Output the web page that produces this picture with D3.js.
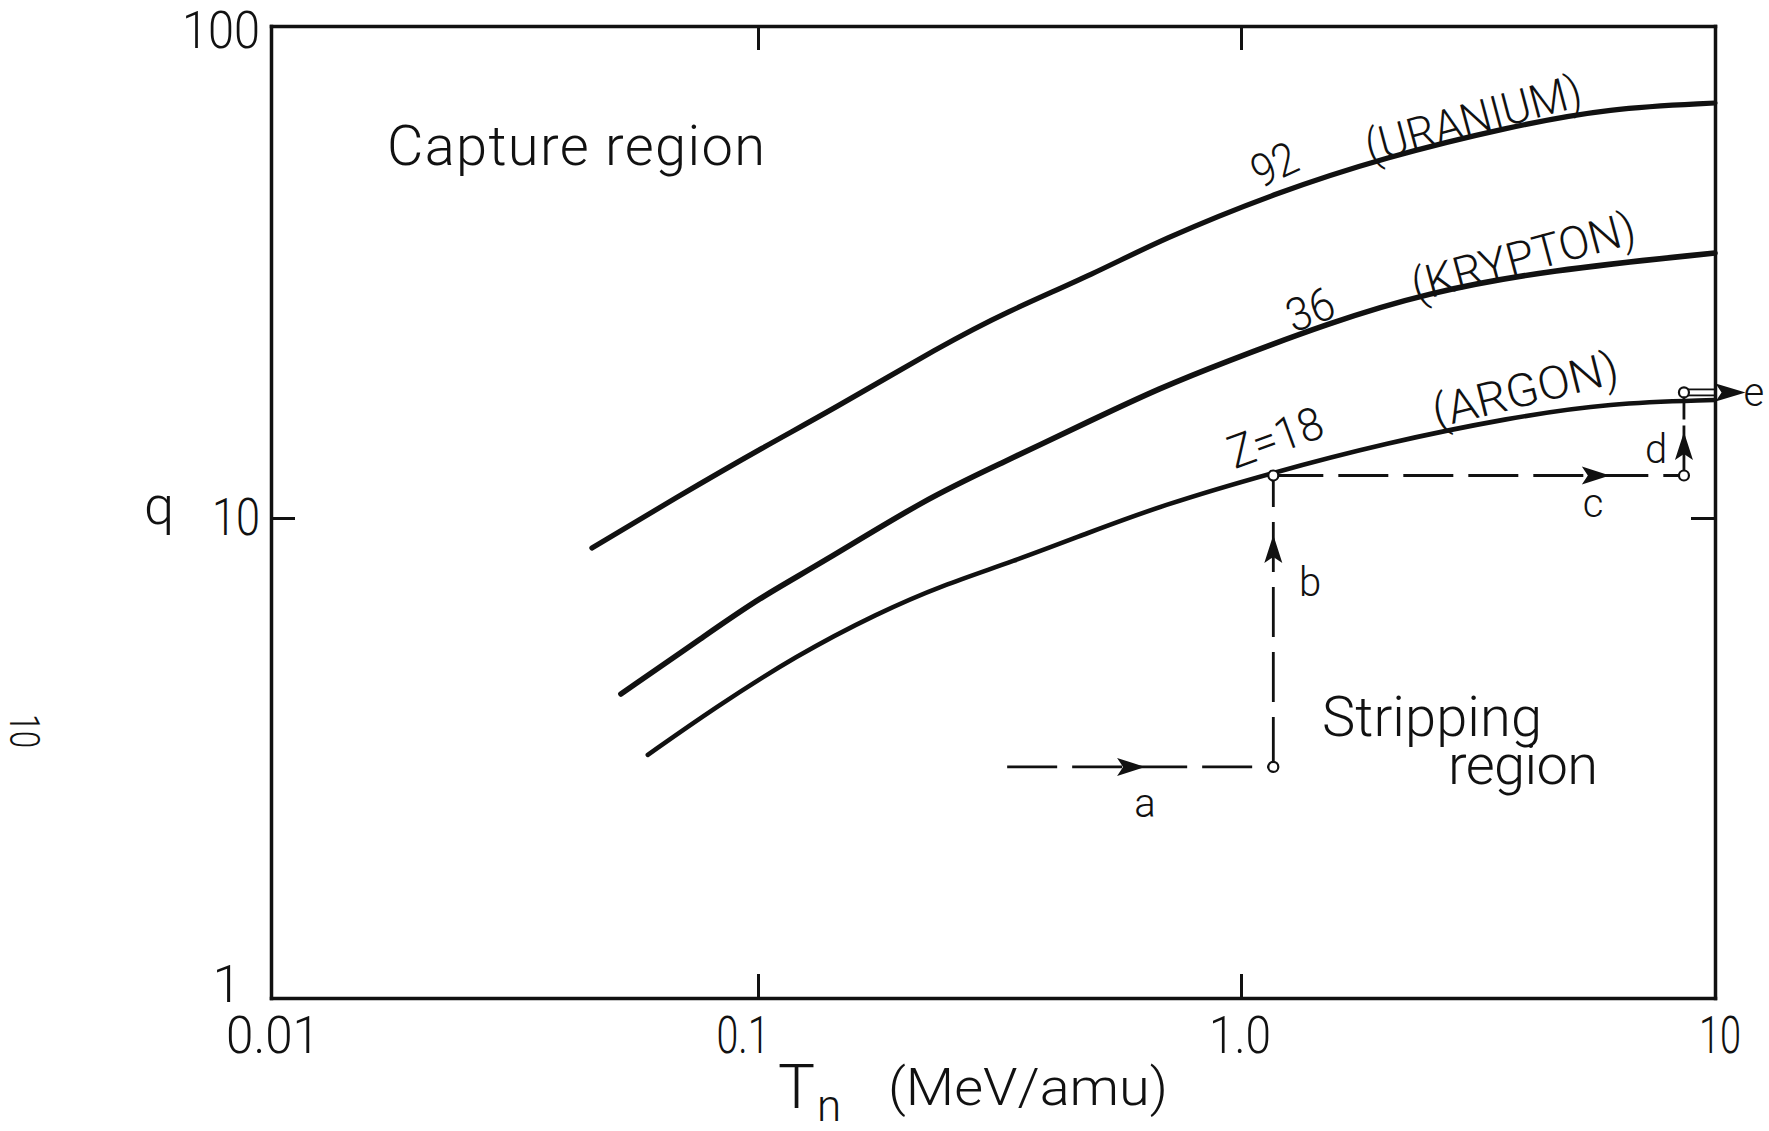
<!DOCTYPE html>
<html><head><meta charset="utf-8">
<script src="https://cdn.jsdelivr.net/npm/d3@7"></script>
<style>
body{margin:0;background:#fff}
svg{display:block}
text{font-family:Roboto,"Liberation Sans",sans-serif;font-weight:300;fill:#111}
</style>
</head><body>
<svg id="c" width="1769" height="1131"></svg>
<script>
// ---------- data ----------
const xTicks = [0.01, 0.1, 1, 10];
const xTickLabels = ["0.01", "0.1", "1.0", "10"];
const yTicks = [1, 10, 100];
const yTickLabels = ["1", "10", "100"];

// Uranium Z=92
const energyU = [0.0456, 0.0676, 0.1044, 0.1396, 0.2415, 0.3231, 0.501, 0.6797, 1.18, 2.022, 3.659, 6.004, 10];
const chargeU = [8.66, 10.98, 14.07, 16.42, 22.47, 26.11, 31.48, 36.73, 45.78, 54.17, 62.33, 68.13, 69.74];
// Krypton Z=36
const energyKr = [0.0523, 0.0778, 0.1005, 0.1344, 0.2238, 0.317, 0.501, 0.6797, 0.9133, 1.533, 2.456, 4.465, 10];
const chargeKr = [4.30, 5.68, 6.81, 8.02, 10.98, 12.88, 15.97, 18.37, 20.65, 24.91, 28.67, 31.92, 34.56];
// Argon Z=18
const energyAr = [0.0594, 0.0808, 0.1204, 0.1772, 0.2415, 0.3356, 0.4824, 0.6797, 1.157, 2.022, 3.659, 6.004, 10];
const chargeAr = [3.21, 4.00, 5.18, 6.34, 7.25, 8.10, 9.31, 10.58, 12.35, 14.21, 15.97, 17.13, 17.37];

// acceleration path a-b-c-d-e (energy, charge)
const pathT = [0.328, 1.17, 1.17, 8.6, 8.6];
const pathQ = [3.03, 3.03, 12.2, 12.2, 18.0];
const pathLabels = ["a", "b", "c", "d", "e"];
const labelT = [0.633, 1.398, 5.53, 7.51, 12.08];
const labelQ = [2.55, 7.36, 10.73, 13.81, 18.11];
const arrowTipT = [0.633, 1.17, 6.0, 8.6, 11.6];
const arrowTipQ = [3.03, 9.22, 12.2, 14.96, 18.0];
const eEndT = 10;

// curve labels
const curveLabels = ["92", "(URANIUM)", "36", "(KRYPTON)", "Z=18", "(ARGON)"];
const curveLabelT = [1.174, 3.087, 1.398, 3.935, 1.18, 3.973];
const curveLabelQ = [52.4, 65.0, 26.6, 34.08, 14.61, 18.29];

// region labels
const regionLabels = ["Capture region", "Stripping", "region"];
const regionT = [0.0173, 1.482, 2.734];
const regionQ = [52.19, 3.515, 2.791];

// ---------- drawing ----------
const svg = d3.select("#c");
const x = d3.scaleLog().domain(xTicks).range([271, 758, 1241, 1715]);
const y = d3.scaleLog().domain(yTicks).range([998, 518, 26]);
const ink = "#111";

// frame + ticks
const gAx = svg.append("g");
gAx.append("g").attr("transform", `translate(0,${y(1)})`)
  .call(d3.axisBottom(x).tickValues([0.1, 1]).tickSize(-24).tickSizeOuter(0).tickFormat(""));
gAx.append("g").attr("transform", `translate(0,${y(100)})`)
  .call(d3.axisTop(x).tickValues([0.1, 1]).tickSize(-24).tickSizeOuter(0).tickFormat(""));
gAx.append("g").attr("transform", `translate(${x(0.01)},0)`)
  .call(d3.axisLeft(y).tickValues([10]).tickSize(-24).tickSizeOuter(0).tickFormat(""));
gAx.append("g").attr("transform", `translate(${x(10)},0)`)
  .call(d3.axisRight(y).tickValues([10]).tickSize(-24).tickSizeOuter(0).tickFormat(""));
gAx.selectAll("path.domain").attr("stroke", ink).attr("stroke-width", 3.5).attr("stroke-linecap", "square");
gAx.selectAll(".tick line").attr("stroke", ink).attr("stroke-width", 3);

// tick labels
const xLabOff = [2, -15, -1, 5];
const xLabLen = [94, 53, 62, 42];
svg.append("g").selectAll("text").data(xTicks).join("text")
  .attr("x", (d, i) => x(d) + xLabOff[i]).attr("y", y(1) + 55)
  .attr("text-anchor", "middle").attr("font-size", 52)
  .attr("textLength", (d, i) => xLabLen[i]).attr("lengthAdjust", "spacingAndGlyphs")
  .text((d, i) => xTickLabels[i]);

const yLabDx = [-44, -11, -11];
const yLabDy = [4, 17, 22];
svg.append("g").selectAll("text").data(yTicks).join("text")
  .attr("x", (d, i) => x(0.01) + yLabDx[i]).attr("y", (d, i) => y(d) + yLabDy[i])
  .attr("text-anchor", (d, i) => i === 0 ? "middle" : "end").attr("font-size", 52)
  .attr("textLength", (d, i) => i === 0 ? null : [null, 48, 78][i])
  .attr("lengthAdjust", "spacingAndGlyphs")
  .text((d, i) => yTickLabels[i]);

// axis titles
svg.append("text").attr("x", x(0.01) - 112).attr("y", y(10) + 6)
  .attr("text-anchor", "middle").attr("font-size", 54).text("q");
const xt = svg.append("text").attr("x", 778).attr("y", 1108).attr("font-size", 62);
xt.append("tspan").text("T");
xt.append("tspan").attr("font-size", 44).attr("dy", 13).attr("dx", 2).text("n");
svg.append("text").attr("x", 888).attr("y", 1105).attr("font-size", 52)
  .attr("textLength", 280).attr("lengthAdjust", "spacingAndGlyphs").text("(MeV/amu)");

// page number at left margin
svg.append("text").attr("transform", "translate(10,731) rotate(90)")
  .attr("text-anchor", "middle").attr("font-family", "Liberation Serif, DejaVu Serif, serif")
  .attr("font-weight", 400).attr("font-size", 42).attr("textLength", 34)
  .attr("lengthAdjust", "spacingAndGlyphs").text("10");

// curves
const line = d3.line().x(d => x(d[0])).y(d => y(d[1])).curve(d3.curveBasis);
const series = [
  {T: energyU, q: chargeU, w: 5.2},
  {T: energyKr, q: chargeKr, w: 5.6},
  {T: energyAr, q: chargeAr, w: 4.6}
];
svg.append("g").selectAll("path").data(series).join("path")
  .attr("d", s => line(s.T.map((t, i) => [t, s.q[i]])))
  .attr("fill", "none").attr("stroke", ink)
  .attr("stroke-width", s => s.w).attr("stroke-linecap", "round").attr("stroke-linejoin", "round");

// curve labels
const clAngle = [-25, -15, -21, -15, -20, -14];
const clLen = [46, 222, 48, 230, 98, 190];
svg.append("g").selectAll("text").data(curveLabels).join("text")
  .attr("transform", (d, i) => `translate(${x(curveLabelT[i])},${y(curveLabelQ[i])}) rotate(${clAngle[i]})`)
  .attr("text-anchor", "middle").attr("dy", "0.36em").attr("font-size", 46).attr("font-weight", 400)
  .attr("textLength", (d, i) => clLen[i]).attr("lengthAdjust", "spacingAndGlyphs")
  .text(d => d);

// region labels
const rlLen = [378, 220, 150];
svg.append("g").selectAll("text").data(regionLabels).join("text")
  .attr("x", (d, i) => x(regionT[i])).attr("y", (d, i) => y(regionQ[i]))
  .attr("font-size", 56)
  .attr("textLength", (d, i) => rlLen[i]).attr("lengthAdjust", "spacing")
  .text(d => d);

// path a-b-c (dashed), d short
const gp = svg.append("g").attr("stroke", ink).attr("fill", "none");
const segs = [[0, 1], [1, 2], [2, 3]];
gp.selectAll("line.dash").data(segs).join("line")
  .attr("x1", s => x(pathT[s[0]])).attr("y1", s => y(pathQ[s[0]]))
  .attr("x2", s => x(pathT[s[1]])).attr("y2", s => y(pathQ[s[1]]))
  .attr("stroke-width", 2.8).attr("stroke-dasharray", "50,15");
gp.append("line")
  .attr("x1", x(pathT[3])).attr("y1", y(pathQ[3]))
  .attr("x2", x(pathT[4])).attr("y2", y(pathQ[4]))
  .attr("stroke-width", 2.8).attr("stroke-dasharray", "22,6");
// e: double line to the axis
[-3, 3].forEach(o => {
  gp.append("line").attr("x1", x(pathT[4])).attr("y1", y(pathQ[4]) + o)
    .attr("x2", x(eEndT)).attr("y2", y(pathQ[4]) + o).attr("stroke-width", 1.8);
});

// arrowheads
const dirs = ["r", "u", "r", "u", "r"];
svg.append("g").selectAll("path").data(arrowTipT).join("path")
  .attr("d", (t, i) => {
    const tx = x(t), ty = y(arrowTipQ[i]), L = i === 4 ? 30 : 28, h = 9;
    return dirs[i] === "r"
      ? `M${tx},${ty}L${tx - L},${ty - h}L${tx - L + 6},${ty}L${tx - L},${ty + h}Z`
      : `M${tx},${ty}L${tx - h},${ty + L}L${tx},${ty + L - 6}L${tx + h},${ty + L}Z`;
  })
  .attr("fill", ink);

// open circles
svg.append("g").selectAll("circle").data(pathT.slice(1)).join("circle")
  .attr("cx", d => x(d)).attr("cy", (d, i) => y(pathQ[i + 1])).attr("r", 5)
  .attr("fill", "#fff").attr("stroke", ink).attr("stroke-width", 2.2);

// path letters
svg.append("g").selectAll("text").data(pathLabels).join("text")
  .attr("x", (d, i) => x(labelT[i])).attr("y", (d, i) => y(labelQ[i]))
  .attr("text-anchor", "middle").attr("dy", "0.36em").attr("font-size", 40).attr("font-weight", 400)
  .text(d => d);
</script>
</body></html>
